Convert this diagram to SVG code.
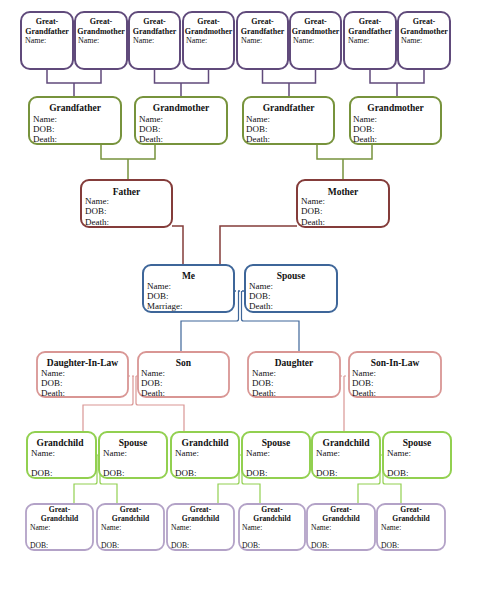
<svg xmlns="http://www.w3.org/2000/svg" width="489" height="590" viewBox="0 0 489 590">
<style>
text{font-family:"Liberation Serif","Times New Roman",serif;fill:#111}
.t{font-weight:bold;text-anchor:middle}
.gp rect{fill:#fff;stroke:#604a7b;stroke-width:2}
.g rect{fill:#fff;stroke:#77933c;stroke-width:2}
.p rect{fill:#fff;stroke:#843c3a;stroke-width:2}
.m rect{fill:#fff;stroke:#3e6699;stroke-width:2}
.c rect{fill:#fff;stroke:#d99694;stroke-width:1.8}
.gc rect{fill:#fff;stroke:#92d050;stroke-width:2}
.ggc rect{fill:#fff;stroke:#b3a2c7;stroke-width:1.8}
.s8{font-size:8px}
.s9{font-size:9px}
.s95{font-size:9.5px}
.s75{font-size:7.6px}
#connectors path{fill:none;stroke-width:1.5}
</style>
<g id="connectors">
<path d="M47,69V83H101V69M74,83V97" stroke="#604a7b"/>
<path d="M154.5,69V83H208.5V69M181,83V97" stroke="#604a7b"/>
<path d="M262.5,69V83H315.5V69M289,83V97" stroke="#604a7b"/>
<path d="M370,69V83H424V69M397,83V97" stroke="#604a7b"/>
<path d="M101,144V159H155V144M128,159V180" stroke="#77933c"/>
<path d="M317,144V159H372V144M343,159V180" stroke="#77933c"/>
<path d="M172,226H183V265M297,226H220V265" stroke="#843c3a"/>
<path d="M234,291H245" stroke="#3e6699" stroke-dasharray="2 2" stroke-width="1"/>
<path d="M238.5,291V319q0,2 -2,2H181V352M241.5,291V319q0,2 2,2H299V352" stroke="#3e6699" style="stroke-width:1.2"/>
<path d="M128,376H138" stroke="#d99694" stroke-dasharray="2 2" style="stroke-width:1"/>
<path d="M133,376V403q0,2 -2,2H83V432M136,376V403q0,2 2,2H184V432" stroke="#d99694" style="stroke-width:1.2"/>
<path d="M340,376H349" stroke="#d99694" stroke-dasharray="2 2" style="stroke-width:1"/>
<path d="M344,376V432" stroke="#d99694" style="stroke-width:1.2"/>
<path d="M96,455H99M239,455H242M380,455H383" stroke="#92d050" style="stroke-width:1"/>
<path d="M97,455V482q0,2 -2,2H74V504M100,455V482q0,2 2,2H117V504" stroke="#92d050" style="stroke-width:1.2"/>
<path d="M239,455V482q0,2 -2,2H218V504M242,455V482q0,2 2,2H260V504" stroke="#92d050" style="stroke-width:1.2"/>
<path d="M380,455V482q0,2 -2,2H358V504M383,455V482q0,2 2,2H401V504" stroke="#92d050" style="stroke-width:1.2"/>
</g>

<g id="ggf1" class="gp"><rect x="21" y="12" width="52" height="57" rx="9"/><text class="t s8" x="47" y="23.5">Great-</text><text class="t s8" x="47" y="33.5">Grandfather</text><text class="s8" x="25" y="42.5">Name:</text></g>
<g id="ggm1" class="gp"><rect x="75" y="12" width="52" height="57" rx="9"/><text class="t s8" x="101" y="23.5">Great-</text><text class="t s8" x="101" y="33.5">Grandmother</text><text class="s8" x="78" y="42.5">Name:</text></g>
<g id="ggf2" class="gp"><rect x="129" y="12" width="51" height="57" rx="9"/><text class="t s8" x="154.5" y="23.5">Great-</text><text class="t s8" x="154.5" y="33.5">Grandfather</text><text class="s8" x="133" y="42.5">Name:</text></g>
<g id="ggm2" class="gp"><rect x="183" y="12" width="51" height="57" rx="9"/><text class="t s8" x="208.5" y="23.5">Great-</text><text class="t s8" x="208.5" y="33.5">Grandmother</text><text class="s8" x="186" y="42.5">Name:</text></g>
<g id="ggf3" class="gp"><rect x="237" y="12" width="51" height="57" rx="9"/><text class="t s8" x="262.5" y="23.5">Great-</text><text class="t s8" x="262.5" y="33.5">Grandfather</text><text class="s8" x="241" y="42.5">Name:</text></g>
<g id="ggm3" class="gp"><rect x="290" y="12" width="51" height="57" rx="9"/><text class="t s8" x="315.5" y="23.5">Great-</text><text class="t s8" x="315.5" y="33.5">Grandmother</text><text class="s8" x="293" y="42.5">Name:</text></g>
<g id="ggf4" class="gp"><rect x="344" y="12" width="52" height="57" rx="9"/><text class="t s8" x="370" y="23.5">Great-</text><text class="t s8" x="370" y="33.5">Grandfather</text><text class="s8" x="348" y="42.5">Name:</text></g>
<g id="ggm4" class="gp"><rect x="398" y="12" width="52" height="57" rx="9"/><text class="t s8" x="424" y="23.5">Great-</text><text class="t s8" x="424" y="33.5">Grandmother</text><text class="s8" x="401" y="42.5">Name:</text></g>

<g id="gf1" class="g"><rect x="29" y="97" width="92" height="47" rx="8"/><text class="t s95" x="75" y="111">Grandfather</text><text class="s9" x="33" y="122">Name:</text><text class="s9" x="33" y="132">DOB:</text><text class="s9" x="33" y="142">Death:</text></g>
<g id="gm1" class="g"><rect x="135" y="97" width="92" height="47" rx="8"/><text class="t s95" x="181" y="111">Grandmother</text><text class="s9" x="139" y="122">Name:</text><text class="s9" x="139" y="132">DOB:</text><text class="s9" x="139" y="142">Death:</text></g>
<g id="gf2" class="g"><rect x="243" y="97" width="91" height="47" rx="8"/><text class="t s95" x="288.5" y="111">Grandfather</text><text class="s9" x="246" y="122">Name:</text><text class="s9" x="246" y="132">DOB:</text><text class="s9" x="246" y="142">Death:</text></g>
<g id="gm2" class="g"><rect x="350" y="97" width="91" height="47" rx="8"/><text class="t s95" x="395.5" y="111">Grandmother</text><text class="s9" x="353" y="122">Name:</text><text class="s9" x="353" y="132">DOB:</text><text class="s9" x="353" y="142">Death:</text></g>

<g id="father" class="p"><rect x="81" y="180" width="91" height="47" rx="8"/><text class="t s95" x="126.5" y="194.5">Father</text><text class="s9" x="85" y="204">Name:</text><text class="s9" x="85" y="214">DOB:</text><text class="s9" x="85" y="225">Death:</text></g>
<g id="mother" class="p"><rect x="297" y="180" width="92" height="47" rx="8"/><text class="t s95" x="343" y="194.5">Mother</text><text class="s9" x="301" y="204">Name:</text><text class="s9" x="301" y="214">DOB:</text><text class="s9" x="301" y="225">Death:</text></g>

<g id="me" class="m"><rect x="143" y="265" width="91" height="47" rx="8"/><text class="t s95" x="188.5" y="279">Me</text><text class="s9" x="147" y="289">Name:</text><text class="s9" x="147" y="299">DOB:</text><text class="s9" x="147" y="309">Marriage:</text></g>
<g id="spouse" class="m"><rect x="245" y="265" width="92" height="47" rx="8"/><text class="t s95" x="291" y="279">Spouse</text><text class="s9" x="249" y="289">Name:</text><text class="s9" x="249" y="299">DOB:</text><text class="s9" x="249" y="309">Death:</text></g>

<g id="dil" class="c"><rect x="37" y="352" width="91" height="45" rx="8"/><text class="t s95" x="82.5" y="366">Daughter-In-Law</text><text class="s9" x="41" y="376">Name:</text><text class="s9" x="41" y="386">DOB:</text><text class="s9" x="41" y="395.5">Death:</text></g>
<g id="son" class="c"><rect x="138" y="352" width="91" height="45" rx="8"/><text class="t s95" x="183.5" y="366">Son</text><text class="s9" x="141" y="376">Name:</text><text class="s9" x="141" y="386">DOB:</text><text class="s9" x="141" y="395.5">Death:</text></g>
<g id="daughter" class="c"><rect x="248" y="352" width="92" height="45" rx="8"/><text class="t s95" x="294" y="366">Daughter</text><text class="s9" x="252" y="376">Name:</text><text class="s9" x="252" y="386">DOB:</text><text class="s9" x="252" y="395.5">Death:</text></g>
<g id="sil" class="c"><rect x="349" y="352" width="92" height="45" rx="8"/><text class="t s95" x="395" y="366">Son-In-Law</text><text class="s9" x="352" y="376">Name:</text><text class="s9" x="352" y="386">DOB:</text><text class="s9" x="352" y="395.5">Death:</text></g>

<g id="gc1" class="gc"><rect x="27" y="432" width="69" height="46" rx="8"/><text class="t s95" x="60" y="446">Grandchild</text><text class="s9" x="31" y="456">Name:</text><text class="s9" x="31" y="476">DOB:</text></g>
<g id="gcs1" class="gc"><rect x="99" y="432" width="68" height="46" rx="8"/><text class="t s95" x="133" y="446">Spouse</text><text class="s9" x="103" y="456">Name:</text><text class="s9" x="103" y="476">DOB:</text></g>
<g id="gc2" class="gc"><rect x="171" y="432" width="68" height="46" rx="8"/><text class="t s95" x="205" y="446">Grandchild</text><text class="s9" x="175" y="456">Name:</text><text class="s9" x="175" y="476">DOB:</text></g>
<g id="gcs2" class="gc"><rect x="242" y="432" width="68" height="46" rx="8"/><text class="t s95" x="276" y="446">Spouse</text><text class="s9" x="246" y="456">Name:</text><text class="s9" x="246" y="476">DOB:</text></g>
<g id="gc3" class="gc"><rect x="312" y="432" width="68" height="46" rx="8"/><text class="t s95" x="346" y="446">Grandchild</text><text class="s9" x="316" y="456">Name:</text><text class="s9" x="316" y="476">DOB:</text></g>
<g id="gcs3" class="gc"><rect x="383" y="432" width="68" height="46" rx="8"/><text class="t s95" x="417" y="446">Spouse</text><text class="s9" x="387" y="456">Name:</text><text class="s9" x="387" y="476">DOB:</text></g>

<g id="ggc1" class="ggc"><rect x="26" y="504" width="67" height="46" rx="8"/><text class="t s75" x="59.5" y="511.5">Great-</text><text class="t s75" x="59.5" y="521">Grandchild</text><text class="s75" x="30" y="530">Name:</text><text class="s75" x="30" y="548">DOB:</text></g>
<g id="ggc2" class="ggc"><rect x="97" y="504" width="67" height="46" rx="8"/><text class="t s75" x="130.5" y="511.5">Great-</text><text class="t s75" x="130.5" y="521">Grandchild</text><text class="s75" x="101" y="530">Name:</text><text class="s75" x="101" y="548">DOB:</text></g>
<g id="ggc3" class="ggc"><rect x="167" y="504" width="67" height="46" rx="8"/><text class="t s75" x="200.5" y="511.5">Great-</text><text class="t s75" x="200.5" y="521">Grandchild</text><text class="s75" x="171" y="530">Name:</text><text class="s75" x="171" y="548">DOB:</text></g>
<g id="ggc4" class="ggc"><rect x="239" y="504" width="66" height="46" rx="8"/><text class="t s75" x="272" y="511.5">Great-</text><text class="t s75" x="272" y="521">Grandchild</text><text class="s75" x="242" y="530">Name:</text><text class="s75" x="242" y="548">DOB:</text></g>
<g id="ggc5" class="ggc"><rect x="307" y="504" width="68" height="46" rx="8"/><text class="t s75" x="341" y="511.5">Great-</text><text class="t s75" x="341" y="521">Grandchild</text><text class="s75" x="311" y="530">Name:</text><text class="s75" x="311" y="548">DOB:</text></g>
<g id="ggc6" class="ggc"><rect x="377" y="504" width="68" height="46" rx="8"/><text class="t s75" x="411" y="511.5">Great-</text><text class="t s75" x="411" y="521">Grandchild</text><text class="s75" x="381" y="530">Name:</text><text class="s75" x="381" y="548">DOB:</text></g>
</svg>
